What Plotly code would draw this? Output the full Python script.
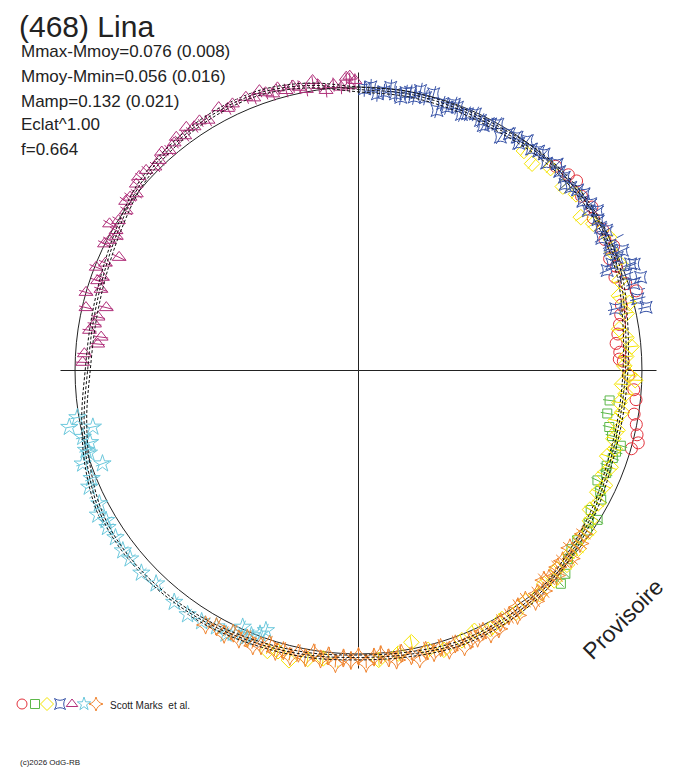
import plotly.graph_objects as go

OFF = 8                      # page body margin of the browser
W, H = 688 - OFF, 768 - OFF  # figure size so that the page fits the window
K = 0.776          # relative radius per magnitude (unit circle = mean magnitude)
R_EDGE = 1.0513    # radial extent of the axis cross

# ---------------- model curves (phase in degrees, delta-mag) ----------------
MODEL_PHASE = [0, 10, 20, 30, 40, 50, 60, 70, 80, 90, 100, 110, 120, 130, 140, 150, 160, 170, 180,
               190, 200, 210, 220, 230, 240, 250, 260, 270, 280, 290, 300, 310, 320, 330, 340, 350, 360]
MODEL_A = [0.011, 0.011, 0.016, 0.020, 0.007, 0.002, 0.007, 0.025, 0.057, 0.075, 0.080, 0.072, 0.045,
           0.018, -0.015, -0.030, -0.034, -0.022, -0.016, -0.025, -0.034, -0.048, -0.060, -0.065,
           -0.056, -0.020, 0.022, 0.057, 0.063, 0.052, 0.025, -0.014, -0.036, -0.050, -0.052, -0.027, 0.011]
MODEL_B = [0.022, 0.024, 0.028, 0.031, 0.019, 0.013, 0.018, 0.037, 0.068, 0.086, 0.090, 0.083, 0.057,
           0.030, -0.004, -0.019, -0.023, -0.011, -0.005, -0.014, -0.023, -0.037, -0.049, -0.054,
           -0.045, -0.008, 0.034, 0.069, 0.075, 0.064, 0.037, -0.002, -0.025, -0.039, -0.041, -0.016, 0.022]
MODEL_C = [0.000, 0.000, 0.005, 0.009, -0.004, -0.009, -0.004, 0.014, 0.046, 0.064, 0.069, 0.061, 0.034,
           0.007, -0.026, -0.041, -0.045, -0.033, -0.027, -0.036, -0.045, -0.059, -0.071, -0.076,
           -0.067, -0.031, 0.011, 0.046, 0.052, 0.041, 0.014, -0.025, -0.047, -0.061, -0.063, -0.038, 0.000]

# ---------------- sessions (phase deg, delta-mag) ----------------
RED_PH = [44, 47, 49, 52, 55, 57, 60, 62, 64, 66, 68, 70, 72, 74, 76, 78, 80, 82, 84, 86, 87.5, 88,
          91, 94, 96, 99, 101, 103, 104.5, 106]
RED_DM = [-0.002, -0.016, -0.025, 0.002, -0.007, 0.016, 0.007, 0.020, -0.002, 0.039, 0.025, 0.048,
          0.011, -0.025, 0.057, 0.070, 0.084, 0.098, 0.111, 0.098, 0.102, 0.084, 0.061, 0.034, 0.020,
          0.020, 0.002, -0.011, -0.025, -0.002]

GREEN_PH = [96.8, 99.8, 102.7, 104.5, 106, 107.5, 109, 111, 112.5, 114.7, 116.5, 118, 121, 122,
            123.5, 125, 127.8, 130, 132, 134.5, 136.5]
GREEN_DM = [0.139, 0.141, 0.120, 0.098, 0.048, 0.061, 0.066, 0.080, 0.070, 0.093, 0.061, 0.039,
            0.057, 0.007, 0.034, 0.020, 0.030, 0.025, 0.007, -0.030, -0.048]

YELLOW_PH = [37, 40, 43.5, 48, 51, 55.4, 58, 62, 65, 68, 71, 74, 76, 78, 81, 83, 85, 87, 89, 91, 92,
             93, 95, 97, 99, 101, 103, 105, 107, 109, 111, 113, 115, 117, 119, 121, 123, 125, 127,
             129, 131, 133, 135, 137, 139, 141, 144, 147, 150, 153, 156, 159, 163, 166, 169, 172,
             176, 184, 187, 190, 193.5, 196, 198, 202, 206, 208, 210]
YELLOW_DM = [0.039, 0.061, 0.020, 0.039, 0.016, 0.061, 0.030, -0.002, 0.016, 0.002, 0.034, 0.057,
             0.020, 0.043, 0.089, 0.061, 0.043, 0.070, 0.080, 0.057, 0.030, 0.089, 0.070, 0.093,
             0.075, 0.098, 0.080, 0.089, 0.070, 0.093, 0.061, 0.080, 0.052, 0.070, 0.043, 0.061,
             0.034, 0.011, 0.025, 0.002, 0.016, -0.007, 0.011, -0.016, 0.002, -0.020, -0.007,
             -0.025, -0.016, -0.030, -0.007, -0.025, -0.039, -0.020, 0.030, -0.011, -0.030, -0.086,
             -0.030, -0.043, -0.066, -0.039, -0.052, -0.084, -0.075, -0.084, -0.134]

BLUE_PH = [1.2, 2.5, 3.9, 5.2, 6.5, 7.6, 8.8, 9.7, 10.6, 11.5, 12.5, 13.8, 15.2, 16.8, 17.5, 18.6,
           19.8, 20.6, 21.9, 23.0, 24.5, 26.0, 27.0, 28.2, 29.5, 31.3, 32.5, 34.2, 35.2, 36.3, 38.0,
           39.4, 40.6, 42.2, 43.9, 45.3, 46.8, 48.0, 49.2, 50.5, 51.9, 53.0, 54.3, 55.2, 56.2, 57.8,
           59.4, 60.5, 61.5, 62.8, 63.5, 64.5, 65.5, 66.4, 67.2, 68.1, 68.6, 68.9, 70.3, 71.7, 72.5,
           74.0, 75.6, 76.5, 77.6]
BLUE_DM = [0.008, -0.002, 0.028, 0.016, -0.007, 0.020, 0.032, 0.007, 0.002, 0.020, -0.015, 0.011,
           -0.015, 0.054, 0.016, 0.026, 0.002, 0.010, 0.034, 0.021, 0.007, 0.024, 0.039, 0.017,
           0.002, 0.047, 0.012, 0.006, 0.025, -0.008, 0.011, -0.002, -0.008, 0.016, -0.014, 0.002,
           0.005, 0.025, 0.014, -0.002, -0.014, 0.011, -0.011, 0.016, -0.018, 0.002, 0.010, -0.007,
           0.030, -0.069, 0.011, 0.020, -0.030, 0.005, 0.039, 0.070, -0.040, -0.055, -0.002, -0.062,
           -0.024, -0.086, -0.022, 0.086, -0.050]

ORANGE_PH = [126, 128, 130, 131.5, 133, 134.6, 136, 137.5, 138.5, 140, 141.3, 142.5, 144, 146, 147,
             148.5, 150.5, 151.5, 153.3, 154.5, 156, 157.4, 159, 160.5, 162, 163.5, 165, 166.5, 168,
             169.5, 171.4, 172.5, 174, 175.5, 176.9, 178.5, 180, 181.5, 183, 184.5, 186, 187.5, 189,
             190.5, 192, 193.5, 195, 196.5, 198, 199.5, 201, 202.5, 204, 205.5, 207, 209, 211]
ORANGE_DM = [0.025, 0.011, 0.034, -0.002, 0.020, 0.016, -0.007, 0.007, 0.016, -0.020, -0.011, -0.034,
             -0.002, -0.007, -0.039, -0.020, -0.025, -0.048, -0.052, -0.025, -0.043, -0.039, -0.057,
             -0.030, -0.048, -0.025, -0.039, -0.020, -0.052, -0.030, -0.011, -0.039, -0.025, -0.007,
             -0.016, -0.043, -0.011, -0.030, -0.020, -0.048, -0.016, -0.034, -0.011, -0.039, -0.025,
             -0.048, -0.030, -0.043, -0.020, -0.039, -0.052, -0.030, -0.048, -0.034, -0.057, -0.043,
             -0.061]

CYAN_PH = [199.6, 200.5, 202, 203, 204.3, 205.5, 206.7, 208, 209, 210.4, 212, 213.6, 215, 217.2,
           218.5, 220.9, 222, 223.5, 225.8, 227, 229.3, 230.5, 232.6, 234, 235.5, 237, 238, 239.3,
           241, 242.8, 244.6, 246.6, 248, 250, 251.3, 253, 253.7, 255, 256.4, 258, 258.9, 260.5]
CYAN_DM = [0.034, 0.010, -0.011, -0.030, 0.009, -0.034, -0.052, -0.070, -0.043, -0.080, -0.057,
           -0.086, -0.066, -0.082, -0.057, -0.095, -0.070, -0.048, -0.080, -0.061, -0.084, -0.057,
           -0.060, -0.080, -0.052, -0.079, -0.057, -0.046, -0.066, -0.036, -0.089, -0.045, -0.020,
           0.050, -0.035, 0.007, -0.002, 0.025, -0.001, 0.054, -0.051, -0.007]

MAGENTA_PH = [271.7, 273.5, 275.8, 277.4, 278.5, 280, 281.6, 283, 284, 286, 287.5, 289, 290, 291.5,
              293, 295.3, 296.5, 297.6, 299, 300, 300.5, 302, 304.5, 306, 307.2, 308.5, 310, 311.5,
              313.3, 315, 316.5, 318, 319.3, 321, 322, 323.5, 324.7, 326, 327.5, 329, 330.5, 332,
              333.5, 334.7, 336, 337.6, 339, 340.5, 341.5, 342.8, 344, 345.5, 347, 348.2, 349.5, 351,
              352, 353.4, 355, 356.5, 357.6, 358.2, 358.3, 359.3]
MAGENTA_DM = [0.034, 0.040, 0.097, 0.109, 0.052, 0.070, 0.080, 0.017, 0.107, 0.000, 0.061, 0.034,
              0.050, 0.007, 0.039, 0.085, -0.002, 0.011, 0.030, 0.016, -0.025, 0.002, 0.007, -0.020,
              -0.015, -0.002, -0.030, -0.043, -0.038, -0.020, -0.028, -0.048, -0.031, -0.043, -0.057,
              -0.039, -0.066, -0.048, -0.057, -0.039, -0.086, -0.065, -0.043, -0.052, -0.070, -0.055,
              -0.039, -0.061, -0.043, -0.028, -0.048, -0.026, -0.039, -0.027, -0.011, -0.046, -0.020,
              0.007, -0.016, -0.002, -0.046, -0.007, -0.050, -0.030]

# radial error (mag) per session
ERR = {"red": 0.0, "green": 0.030, "yellow": 0.030, "blue": 0.036, "magenta": 0.032,
       "cyan": 0.032, "orange": 0.040}

STATS = ["Mmax-Mmoy=0.076 (0.008)", "Mmoy-Mmin=0.056 (0.016)", "Mamp=0.132 (0.021)",
         "Eclat^1.00", "f=0.664"]

RED, GREEN, YELLOW, BLUE = "#e3323c", "#5db84a", "#f5e400", "#3a55a8"
MAGENTA, CYAN, ORANGE = "#b0307a", "#6cc8dc", "#f0842f"

SESSIONS = [
    ("red", RED_PH, RED_DM, RED, "circle-open", 12),
    ("green", GREEN_PH, GREEN_DM, GREEN, "square-open", 9),
    ("yellow", YELLOW_PH, YELLOW_DM, YELLOW, "diamond-open", 12),
    ("blue", BLUE_PH, BLUE_DM, BLUE, "star-square-open", 11),
    ("magenta", MAGENTA_PH, MAGENTA_DM, MAGENTA, "triangle-up-open", 12),
    ("cyan", CYAN_PH, CYAN_DM, CYAN, "star-open", 13),
    ("orange", ORANGE_PH, ORANGE_DM, ORANGE, "star-diamond-open", 13),
]


def rad(dm):
    return [1 - K * v for v in dm]


def fx(px):   # window pixel -> paper fraction (x)
    return (px - OFF) / W


def fy(py):   # window pixel -> paper fraction (y)
    return 1 - (py - OFF) / H


fig = go.Figure()

for name, ph, dm, col, sym, sz in SESSIONS:
    e = ERR[name]
    if e > 0:
        rr, tt = [], []
        for th, v in zip(ph, dm):
            rr += [1 - K * (v + e), 1 - K * (v - e), None]
            tt += [th, th, None]
        fig.add_trace(go.Scatterpolar(r=rr, theta=tt, mode="lines",
                                      line=dict(color=col, width=1), hoverinfo="skip",
                                      showlegend=False))
    fig.add_trace(go.Scatterpolar(r=rad(dm), theta=ph, mode="markers",
                                  marker=dict(symbol=sym, size=sz, color=col,
                                              line=dict(color=col, width=1)),
                                  showlegend=False))

for m in (MODEL_B, MODEL_C, MODEL_A):
    fig.add_trace(go.Scatterpolar(r=rad(m), theta=MODEL_PHASE, mode="lines",
                                  line=dict(color="#111", width=1, dash="3px,2px", shape="spline"),
                                  showlegend=False, hoverinfo="skip"))

# legend symbols (overlay axes in window pixels)
LEG_X = [22, 35, 47, 60, 72, 84, 96]
for (name, ph, dm, col, sym, sz), lx in zip(SESSIONS, LEG_X):
    fig.add_trace(go.Scatter(x=[lx], y=[704], mode="markers", xaxis="x", yaxis="y",
                             marker=dict(symbol=sym, size=10 if sym != "square-open" else 9, color=col,
                                         line=dict(color=col, width=1)),
                             showlegend=False, hoverinfo="skip"))

FONT = "Liberation Sans, Arial, sans-serif"
ann = [dict(text="(468) Lina", x=18, y=8.5, yanchor="top", borderpad=0,
            font=dict(size=30, color="#222", family=FONT))]
for i, s in enumerate(STATS):
    ann.append(dict(text=s, x=19, y=[51.5, 76.5, 101.5, 124.5, 149.5][i],
                    font=dict(size=17, color="#222", family=FONT)))
ann.append(dict(text="Scott Marks  et al.", x=108, y=705, font=dict(size=10, color="#222", family=FONT)))
ann.append(dict(text="(c)2026 OdG-RB", x=18, y=762, font=dict(size=8, color="#222", family=FONT)))
for a in ann:
    a.setdefault("yanchor", "middle")
    a.update(xref="x", yref="y", xanchor="left", showarrow=False)
ann.append(dict(text="Provisoire", x=623, y=619, xref="x", yref="y", xanchor="center",
                yanchor="middle", showarrow=False, textangle=-45,
                font=dict(size=23, color="#222", family=FONT)))

fig.update_layout(
    width=W, height=H, margin=dict(l=0, r=0, t=0, b=0),
    paper_bgcolor="white", plot_bgcolor="rgba(0,0,0,0)",
    showlegend=False,
    xaxis=dict(range=[OFF, W + OFF], domain=[0, 1], visible=False, fixedrange=True),
    yaxis=dict(range=[H + OFF, OFF], domain=[0, 1], visible=False, fixedrange=True),
    polar=dict(
        domain=dict(x=[fx(60.5), fx(656.5)], y=[fy(668.5), fy(72.5)]),
        bgcolor="rgba(0,0,0,0)",
        radialaxis=dict(range=[0, R_EDGE], tickmode="array", tickvals=[1], showticklabels=False,
                        ticks="", showline=False, showgrid=True, gridcolor="#222", gridwidth=1),
        angularaxis=dict(rotation=90, direction="clockwise", tickmode="array",
                         tickvals=[0, 90, 180, 270], showticklabels=False, ticks="",
                         showline=False, showgrid=True, gridcolor="#222", gridwidth=1),
    ),
    annotations=ann,
)

fig.write_html("out.html")
